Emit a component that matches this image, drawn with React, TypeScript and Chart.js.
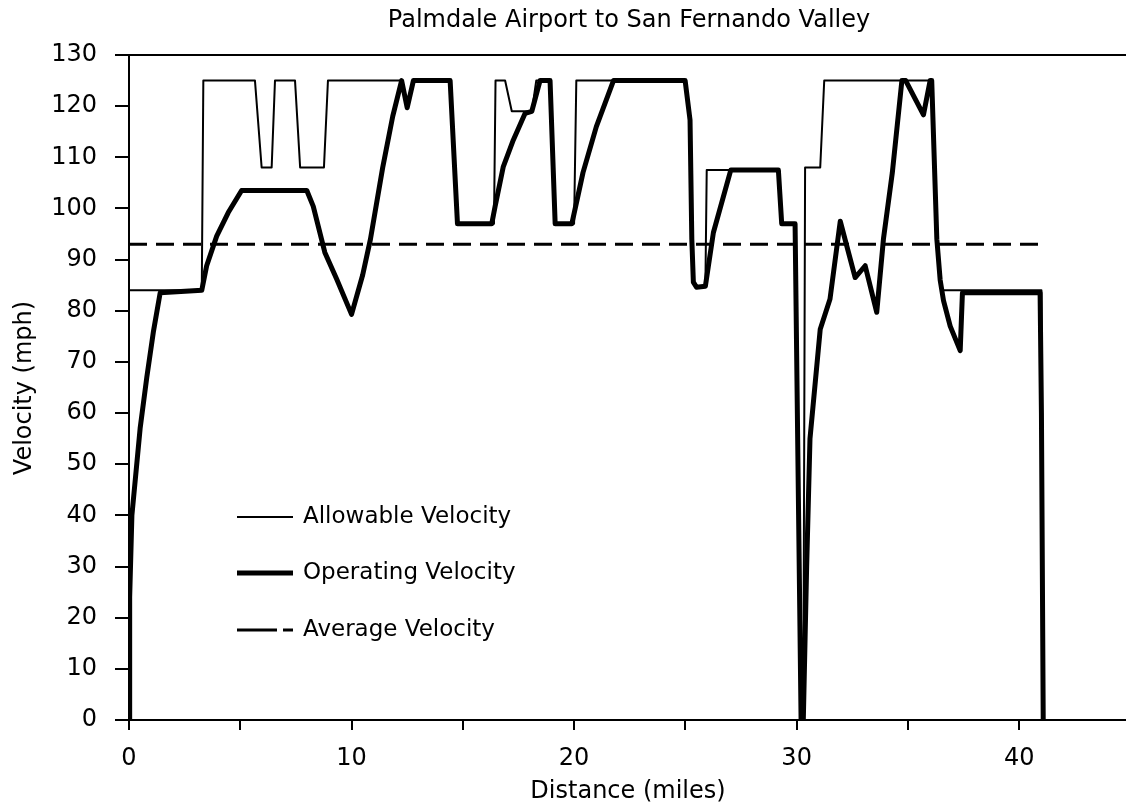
import React, { useEffect, useRef } from 'react';
import { Chart, registerables } from 'chart.js';

Chart.register(...registerables);

const titleText = 'Palmdale Airport to San Fernando Valley';
const xTitle = 'Distance (miles)';
const yTitle = 'Velocity (mph)';
const legendLabels = ['Allowable Velocity', 'Operating Velocity', 'Average Velocity'];

const allowableMiles = [0, 3.27, 3.34, 5.66, 5.96, 6.41, 6.56, 7.46, 7.69, 8.76, 8.94, 12.25, 12.5, 12.78, 14.43, 14.76, 16.4, 16.47, 16.9, 17.2, 18.1, 18.3, 18.92, 19.15, 20.0, 20.1, 24.99, 25.21, 25.29, 25.36, 25.5, 25.9, 25.96, 29.18, 29.33, 29.93, 30.2, 30.3, 30.38, 31.06, 31.24, 36.07, 36.3, 36.45, 36.52, 41.0, 41.08];
const allowableMph = [84, 84, 125, 125, 108, 108, 125, 125, 108, 108, 125, 125, 119.7, 125, 125, 97, 97, 125, 125, 119, 119, 125, 125, 97, 97, 125, 125, 117.3, 94, 85.6, 84.6, 84.8, 107.5, 107.5, 97, 97, 0, 0, 108, 108, 125, 125, 94, 86, 84, 84, 0];

const operatingMiles = [0, 0.03, 0.13, 0.5, 0.8, 1.1, 1.4, 3.27, 3.49, 3.94, 4.46, 5.06, 7.99, 8.28, 8.8, 9.33, 10.0, 10.5, 10.85, 11.4, 11.85, 12.25, 12.5, 12.78, 14.43, 14.76, 16.3, 16.45, 16.82, 17.27, 17.8, 18.1, 18.47, 18.92, 19.15, 19.9, 20.2, 20.4, 21.0, 21.77, 24.99, 25.21, 25.29, 25.36, 25.5, 25.9, 26.26, 27.04, 29.18, 29.33, 29.93, 30.2, 30.3, 30.45, 30.6, 31.06, 31.5, 31.96, 32.63, 33.08, 33.6, 33.9, 34.3, 34.73, 34.9, 35.7, 36.0, 36.07, 36.3, 36.45, 36.6, 36.9, 37.35, 37.45, 40.94, 41.0, 41.08];
const operatingMph = [0, 24, 40, 57, 67, 76, 83.5, 84, 88.8, 94.6, 99.2, 103.5, 103.5, 100.4, 91.4, 86.2, 79.3, 87, 94, 108, 118, 125, 119.7, 125, 125, 97, 97, 100.4, 108.2, 113.4, 118.6, 119, 125, 125, 97, 97, 103, 107, 116, 125, 125, 117.3, 94, 85.6, 84.6, 84.8, 95.3, 107.5, 107.5, 97, 97, 0, 0, 30, 55, 76.4, 82.3, 97.5, 86.5, 88.8, 79.7, 94, 107, 125, 125, 118.3, 125, 125, 94, 86, 82, 77, 72.2, 83.5, 83.5, 60, 0];

const averageMiles = [0, 41.2];
const averageMph = [93, 93];

const xMin = 0;
const xMax = 44.8;
const xStep = 5;
const yMin = 0;
const yMax = 130;
const yStep = 10;

const FONT = 'DejaVu Sans';

const toPoints = (xs: number[], ys: number[]) => xs.map((x, i) => ({ x, y: ys[i] }));

const decorPlugin = {
  id: 'decor',
  afterDraw(chart: any) {
    const { ctx, chartArea } = chart;
    ctx.save();
    ctx.fillStyle = '#000';
    ctx.strokeStyle = '#000';
    // top border
    ctx.lineWidth = 2;
    ctx.beginPath();
    ctx.moveTo(chartArea.left - 12, chartArea.top);
    ctx.lineTo(chartArea.right, chartArea.top);
    ctx.stroke();
    // title
    ctx.font = `24px "${FONT}"`;
    ctx.textAlign = 'center';
    ctx.textBaseline = 'middle';
    ctx.fillText(titleText, 629, 21);
    // x title
    ctx.fillText(xTitle, 628, 792);
    // y title
    ctx.save();
    ctx.translate(25, 388);
    ctx.rotate(-Math.PI / 2);
    ctx.fillText(yTitle, 0, 0);
    ctx.restore();
    // legend
    const rows = [517, 573, 630];
    const widths = [2, 5, 3];
    ctx.textAlign = 'left';
    ctx.font = `23px "${FONT}"`;
    for (let i = 0; i < 3; i++) {
      ctx.lineWidth = widths[i];
      ctx.setLineDash(i === 2 ? [40, 6, 10, 100] : []);
      ctx.beginPath();
      ctx.moveTo(237, rows[i]);
      ctx.lineTo(293, rows[i]);
      ctx.stroke();
      ctx.setLineDash([]);
      ctx.fillText(legendLabels[i], 303, rows[i]);
    }
    ctx.restore();
  },
};

export default function App() {
  const ref = useRef<HTMLCanvasElement | null>(null);
  useEffect(() => {
    if (!ref.current) return;
    const chart = new Chart(ref.current, {
      type: 'line',
      data: {
        datasets: [
          {
            label: legendLabels[0],
            data: toPoints(allowableMiles, allowableMph),
            borderColor: '#000',
            borderWidth: 2,
            pointRadius: 0,
            tension: 0,
            borderJoinStyle: 'round',
          },
          {
            label: legendLabels[1],
            data: toPoints(operatingMiles, operatingMph),
            borderColor: '#000',
            borderWidth: 5,
            pointRadius: 0,
            tension: 0,
            borderJoinStyle: 'round',
          },
          {
            label: legendLabels[2],
            data: toPoints(averageMiles, averageMph),
            borderColor: '#000',
            borderWidth: 3,
            borderDash: [18, 9],
            pointRadius: 0,
            tension: 0,
          },
        ],
      },
      options: {
        responsive: false,
        animation: false,
        events: [],
        layout: { padding: { top: 55, left: 0, right: 0, bottom: 0 } },
        plugins: { legend: { display: false }, title: { display: false }, tooltip: { enabled: false } },
        scales: {
          x: {
            type: 'linear',
            min: xMin,
            max: xMax,
            afterFit: (s: any) => { s.height = 89; },
            border: { display: true, color: '#000', width: 2 },
            grid: { drawOnChartArea: false, drawTicks: true, tickLength: 10, color: '#000', lineWidth: 2 },
            ticks: {
              stepSize: xStep,
              includeBounds: false,
              color: '#000',
              padding: 14,
              maxRotation: 0,
              autoSkip: false,
              font: { family: FONT, size: 24 },
              callback: (v: any) => (Number(v) % 10 === 0 ? String(v) : ''),
            },
          },
          y: {
            type: 'linear',
            min: yMin,
            max: yMax,
            afterFit: (s: any) => { s.width = 129; },
            border: { display: true, color: '#000', width: 2 },
            grid: { drawOnChartArea: false, drawTicks: true, tickLength: 14, color: '#000', lineWidth: 2 },
            ticks: {
              stepSize: yStep,
              color: '#000',
              padding: 18,
              font: { family: FONT, size: 24 },
            },
          },
        },
      },
      plugins: [decorPlugin],
    } as any);
    return () => chart.destroy();
  }, []);
  return (
    <div style={{ position: 'absolute', left: 0, top: 0, width: 1126, height: 809, background: '#fff' }}>
      <canvas ref={ref} width={1126} height={809} style={{ display: 'block' }} />
    </div>
  );
}
